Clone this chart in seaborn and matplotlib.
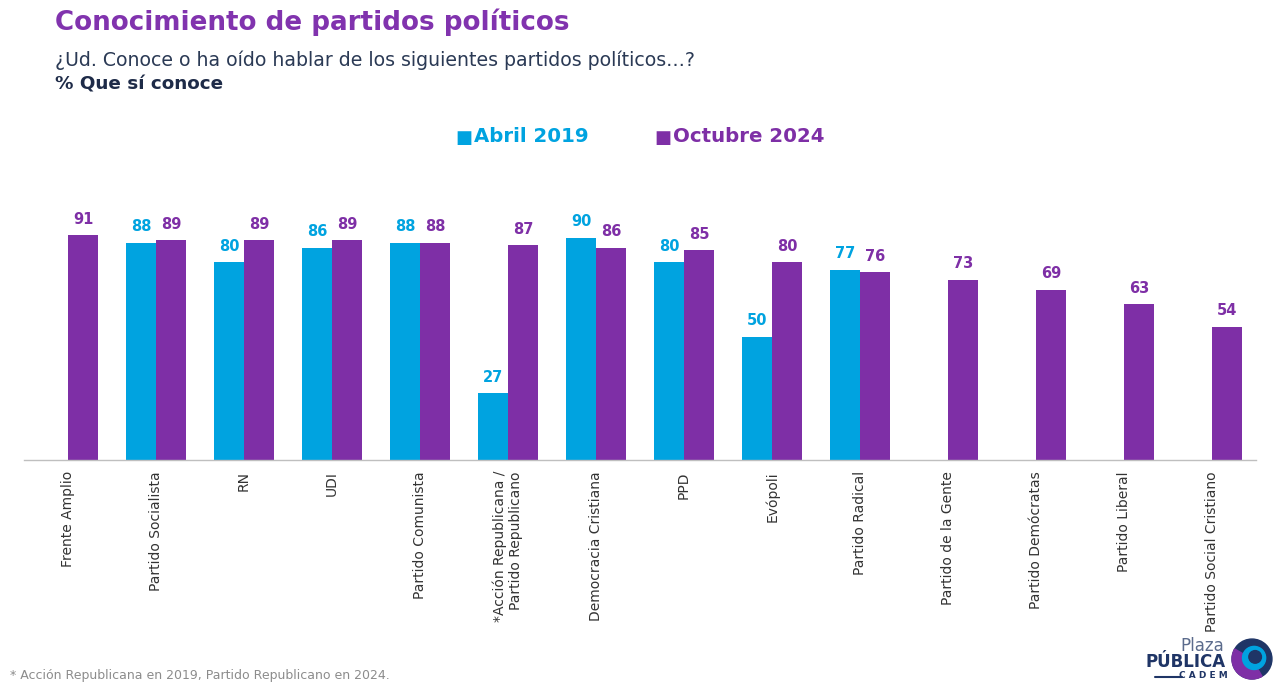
import numpy as np
import pandas as pd
import matplotlib
matplotlib.use("Agg")
import matplotlib.pyplot as plt
import seaborn as sns
from matplotlib.patches import Circle, Wedge

categories = ["Frente Amplio", "Partido Socialista", "RN", "UDI", "Partido Comunista",
              "*Acción Republicana /\nPartido Republicano", "Democracia Cristiana", "PPD",
              "Evópoli", "Partido Radical", "Partido de la Gente", "Partido Demócratas",
              "Partido Liberal", "Partido Social Cristiano"]
abril_2019 = [np.nan, 88, 80, 86, 88, 27, 90, 80, 50, 77, np.nan, np.nan, np.nan, np.nan]
octubre_2024 = [91, 89, 89, 89, 88, 87, 86, 85, 80, 76, 73, 69, 63, 54]
series_names = ["Abril 2019", "Octubre 2024"]

BLUE = "#00A3E0"
PURPLE = "#7E2FA6"
TITLE_PURPLE = "#8133AE"
NAVY = "#2B3A55"

df = pd.DataFrame({
    "categoria": categories * 2,
    "serie": [series_names[0]] * len(categories) + [series_names[1]] * len(categories),
    "valor": list(abril_2019) + list(octubre_2024),
})

sns.set_style("white")
plt.rcParams["font.family"] = ["DejaVu Sans"]

fig = plt.figure(figsize=(12.8, 6.86), dpi=100)
W, H = 1280, 686
ax = fig.add_axes([24 / W, (H - 460) / H, (1256 - 24) / W, (460 - 213) / H])

sns.barplot(data=df, x="categoria", y="valor", hue="serie", order=categories,
            hue_order=series_names, palette=[BLUE, PURPLE], width=0.68,
            saturation=1, ax=ax, legend=False, errorbar=None, linewidth=0)

ax.set_ylim(0, 100)
ax.set_xlim(-0.5, len(categories) - 0.5)
for s in ["top", "right", "left"]:
    ax.spines[s].set_visible(False)
ax.spines["bottom"].set_color("#BFBFBF")
ax.spines["bottom"].set_linewidth(1.0)
ax.set_yticks([])
ax.set_xlabel("")
ax.set_ylabel("")

ax.set_xticks(range(len(categories)))
ax.set_xticklabels(categories, rotation=90, fontsize=10, color="#333333",
                   va="top", ha="center", multialignment="right")
ax.tick_params(axis="x", which="major", length=0, pad=8)
ax.set_xticks(np.arange(-0.5, len(categories) + 0.5, 1), minor=True)
ax.tick_params(axis="x", which="minor", length=6, color="#BFBFBF", width=1)

for cont, col in zip(ax.containers, [BLUE, PURPLE]):
    labels = ["" if np.isnan(v) else f"{v:.0f}" for v in cont.datavalues]
    ax.bar_label(cont, labels=labels, padding=6, color=col, fontsize=10.5,
                 fontweight="bold")

# Titles
fig.text(55 / W, 1 - 22 / H, "Conocimiento de partidos políticos", fontsize=18.8,
         fontweight="bold", color=TITLE_PURPLE, va="center", ha="left")
fig.text(55 / W, 1 - 60 / H,
         "¿Ud. Conoce o ha oído hablar de los siguientes partidos políticos…?",
         fontsize=13.6, color=NAVY, va="center", ha="left")
fig.text(55 / W, 1 - 84 / H, "% Que sí conoce", fontsize=13.2, fontweight="bold",
         color="#1E2B48", va="center", ha="left")

# Legend
fig.text(455 / W, 1 - 138 / H, "■", fontsize=13, color=BLUE, va="center", ha="left")
fig.text(474 / W, 1 - 137 / H, series_names[0], fontsize=14.2, fontweight="bold",
         color=BLUE, va="center", ha="left")
fig.text(654 / W, 1 - 138 / H, "■", fontsize=13, color=PURPLE, va="center", ha="left")
fig.text(673 / W, 1 - 137 / H, series_names[1], fontsize=14.2, fontweight="bold",
         color=PURPLE, va="center", ha="left")

# Footnote
fig.text(10 / W, 1 - 675 / H, "* Acción Republicana en 2019, Partido Republicano en 2024.",
         fontsize=9, color="#8C8C8C", va="center", ha="left")

# Logo
fig.text(1224 / W, 1 - 646 / H, "Plaza", fontsize=12, color="#5B6B8C", va="center",
         ha="right")
fig.text(1226 / W, 1 - 662 / H, "PÚBLICA", fontsize=12, fontweight="bold", color="#1F3566",
         va="center", ha="right")
fig.text(1228 / W, 1 - 676 / H, "C A D E M", fontsize=6.5, fontweight="bold",
         color="#1F3566", va="center", ha="right")
fig.lines.append(plt.Line2D([1155 / W, 1182 / W], [1 - 677 / H, 1 - 677 / H],
                            transform=fig.transFigure, color="#1F3566", lw=1.5))
lax = fig.add_axes([1231 / W, (H - 680) / H, 42 / W, 42 / H])
lax.set_xlim(-1, 1)
lax.set_ylim(-1, 1)
lax.set_aspect("equal")
lax.axis("off")
lax.add_patch(Circle((0, 0), 0.95, color="#1F3566"))
lax.add_patch(Wedge((0, 0), 0.95, 150, 300, color="#7E2FA6"))
lax.add_patch(Circle((0.1, 0.05), 0.55, color="#00A3E0"))
lax.add_patch(Circle((0.15, 0.1), 0.3, color="#1F3566"))

fig.savefig("out.png", dpi=100)
